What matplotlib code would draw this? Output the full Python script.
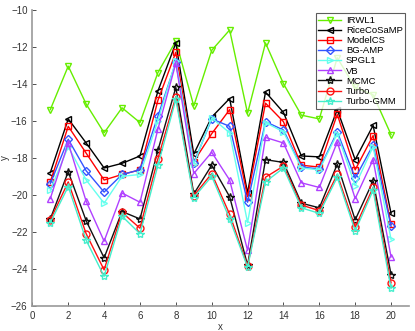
import matplotlib
matplotlib.use("Agg")
import matplotlib.pyplot as plt
import numpy as np

plt.rcParams['font.family'] = ['Liberation Sans', 'DejaVu Sans']

x = list(range(1, 21))
irwl1 = [-15.4, -13.05, -15.1, -16.65, -15.3, -16.1, -13.4, -11.7, -15.2, -12.2,
         -11.1, -15.6, -11.8, -14.0, -15.7, -15.9, -12.6, -14.2, -14.6, -16.75]
ricecosamp = [-18.8, -15.9, -17.2, -18.55, -18.3, -17.9, -14.4, -11.8, -17.8, -15.8,
              -14.8, -19.9, -14.45, -15.55, -17.9, -17.95, -15.4, -18.1, -16.25, -21.0]
modelcs = [-19.3, -16.3, -17.75, -19.2, -18.9, -18.65, -14.9, -12.3, -18.2, -16.7,
           -15.4, -20.1, -15.05, -16.05, -18.4, -18.5, -15.65, -18.65, -16.8, -21.6]
bgamp = [-19.4, -17.0, -18.7, -19.85, -18.9, -18.65, -15.75, -12.85, -18.3, -15.9,
         -16.3, -20.4, -16.05, -16.5, -18.5, -18.6, -16.6, -19.1, -17.3, -21.7]
spgl1 = [-19.75, -17.4, -19.2, -20.45, -19.0, -18.9, -16.0, -12.75, -18.35, -15.85,
         -16.65, -21.5, -16.1, -16.6, -18.55, -18.65, -16.7, -19.5, -17.4, -22.4]
vb = [-20.2, -17.2, -20.35, -22.5, -19.9, -20.4, -16.45, -12.9, -18.85, -17.7,
      -19.2, -23.0, -16.9, -17.2, -19.35, -19.6, -17.15, -20.2, -18.1, -23.35]
mcmc = [-21.3, -18.75, -21.4, -23.4, -20.9, -21.3, -17.6, -14.2, -19.95, -18.4,
        -20.1, -23.8, -18.1, -18.25, -20.45, -20.7, -18.35, -21.35, -19.25, -24.3]
turbo = [-21.35, -19.3, -22.1, -24.05, -20.95, -21.8, -18.05, -14.7, -20.05, -18.85,
         -21.05, -23.85, -19.05, -18.45, -20.55, -20.85, -18.9, -21.75, -19.6, -24.75]
turbo_gmm = [-21.5, -19.55, -22.45, -24.4, -21.15, -22.1, -18.4, -14.85, -20.15, -19.0,
             -21.3, -23.9, -19.3, -18.55, -20.7, -21.0, -19.05, -21.95, -19.75, -25.05]

series = [
    ("IRWL1", irwl1, '#66ee00', 'v'),
    ("RiceCoSaMP", ricecosamp, '#000000', '<'),
    ("ModelCS", modelcs, '#ff0000', 's'),
    ("BG-AMP", bgamp, '#3355ff', 'D'),
    ("SPGL1", spgl1, '#66ffee', '>'),
    ("VB", vb, '#b040ff', '^'),
    ("MCMC", mcmc, '#111111', '*'),
    ("Turbo", turbo, '#ff1111', 'o'),
    ("Turbo-GMM", turbo_gmm, '#44eecc', '*'),
]

fig = plt.figure(figsize=(4.15, 3.31), dpi=100)
ax = fig.add_axes([0.078, 0.0755, 0.9075, 0.8955])
for name, vals, c, m in series:
    ms = 5 if m not in ('*', 'D') else (6 if m == '*' else 4)
    ax.plot(x, vals, color=c, marker=m, markersize=ms, markerfacecolor='none',
            markeredgecolor=c, linewidth=1.0, label=name)

ax.set_xlim(0, 21)
ax.set_ylim(-26, -10)
ax.set_xticks(range(0, 21, 2))
ax.set_yticks(range(-26, -9, 2))
ax.set_yticklabels([f"\u2212{abs(v)}" for v in range(-26, -9, 2)])
ax.tick_params(direction='in', length=3, labelsize=7, colors='#333333', width=0.6)
for s in ('top', 'right'):
    ax.spines[s].set_visible(False)
for s in ('left', 'bottom'):
    ax.spines[s].set_color('#999999')
    ax.spines[s].set_linewidth(1.2)
ax.set_xlabel('x', fontsize=7, color='#333333', labelpad=1)
ax.set_ylabel('y', fontsize=7, color='#333333', labelpad=1)

leg = ax.legend(loc='upper right', fontsize=6.8, frameon=True, fancybox=False,
                edgecolor='#333333', handlelength=2.4, handletextpad=0.5,
                labelspacing=0.12, borderpad=0.3, borderaxespad=0.37)
leg.get_frame().set_linewidth(0.8)

fig.savefig('out.png', dpi=100)
